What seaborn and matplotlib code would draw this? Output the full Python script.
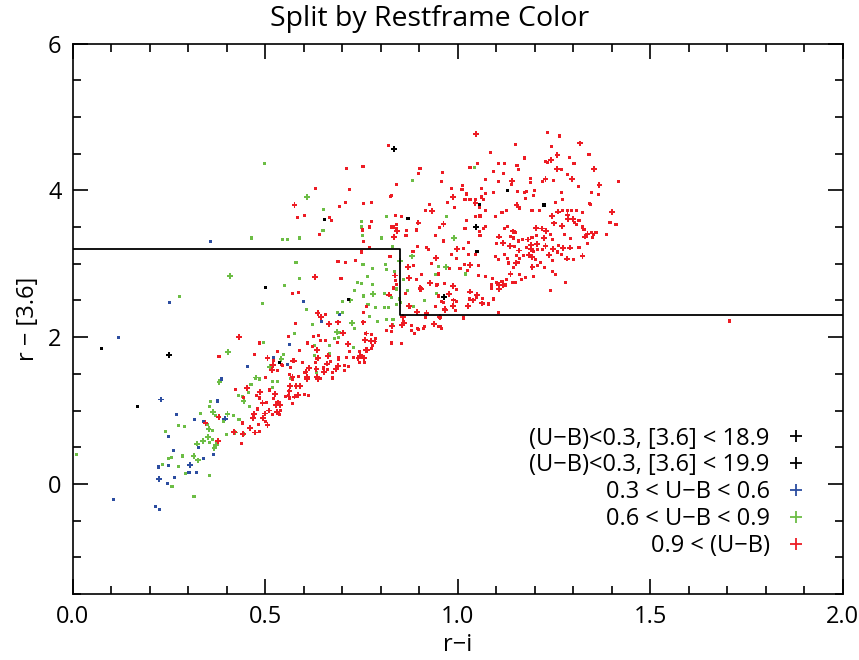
import matplotlib
matplotlib.use("Agg")
import matplotlib.pyplot as plt
import seaborn as sns
import pandas as pd
from matplotlib.lines import Line2D
from matplotlib.ticker import MultipleLocator, FormatStrFormatter

# ---------------- data (x = r-i, y = r-[3.6], big = larger symbol) ----------------
black1_pts = [(0.834, 4.56, 1), (0.251, 1.76, 1), (0.965, 2.55, 1), (1.048, 3.50, 1)]
black2_pts = [(0.655, 3.60, 0), (0.871, 3.62, 0), (0.501, 2.68, 0), (0.717, 2.51, 0),
              (0.074, 1.84, 0), (0.538, 1.66, 0), (0.169, 1.05, 0), (1.129, 4.00, 0),
              (1.057, 3.81, 0), (1.224, 3.80, 0), (1.050, 3.17, 0)]
blue_pts = [(0.357, 3.30, 0), (0.252, 2.47, 0), (0.599, 2.48, 0), (0.118, 2.00, 0), (0.647, 2.21, 0),
            (0.694, 2.31, 0), (0.564, 1.90, 0), (0.557, 1.63, 0), (0.454, 1.60, 0), (0.386, 1.43, 0),
            (0.522, 1.72, 0), (0.229, 1.15, 1), (0.375, 1.13, 0), (0.269, 0.95, 0), (0.316, 0.88, 0),
            (0.339, 0.85, 0), (0.396, 0.89, 1), (0.248, 0.65, 0), (0.326, 0.50, 0), (0.261, 0.45, 0),
            (0.365, 0.40, 0), (0.340, 0.35, 0), (0.250, 0.25, 0), (0.222, 0.23, 0), (0.304, 0.26, 1),
            (0.321, 0.16, 0), (0.302, 0.15, 0), (0.225, 0.07, 1), (0.265, 0.09, 0), (0.246, 0.01, 0),
            (0.107, -0.21, 0), (0.214, -0.31, 0), (0.225, -0.35, 0)]
green_pts = [(0.499, 4.36, 0), (0.609, 3.91, 1), (0.651, 3.74, 0), (0.650, 3.45, 0), (0.465, 3.35, 0),
             (0.544, 3.33, 0), (0.557, 3.33, 0), (0.590, 3.35, 0), (0.882, 4.13, 0), (0.749, 3.58, 0),
             (0.815, 3.64, 0), (0.749, 3.50, 0), (0.752, 3.39, 0), (0.801, 3.35, 0), (0.991, 3.35, 1),
             (0.831, 3.23, 0), (0.881, 3.10, 1), (0.409, 2.83, 1), (0.277, 2.55, 0), (0.580, 3.02, 0),
             (0.588, 2.80, 0), (0.551, 2.70, 0), (0.492, 2.46, 0), (0.607, 2.38, 0), (0.754, 2.99, 0),
             (0.779, 2.94, 0), (0.765, 2.83, 0), (0.740, 2.75, 0), (0.751, 2.73, 0), (0.779, 2.72, 0),
             (0.780, 2.59, 1), (0.731, 2.64, 0), (0.755, 2.56, 0), (0.809, 2.59, 0), (0.812, 2.99, 0),
             (0.814, 2.92, 0), (0.841, 2.65, 0), (0.848, 2.52, 0), (0.840, 2.45, 0), (0.951, 2.96, 0),
             (0.970, 2.96, 1), (0.720, 2.50, 1), (0.701, 2.48, 0), (0.767, 2.45, 0), (0.786, 2.40, 0),
             (0.687, 2.33, 0), (0.700, 2.33, 0), (0.772, 2.28, 0), (0.792, 2.21, 0), (0.725, 2.19, 1),
             (0.731, 2.12, 0), (0.815, 2.09, 0), (0.832, 2.24, 0), (0.687, 2.07, 1), (0.691, 2.00, 0),
             (0.681, 1.98, 0), (0.577, 2.05, 0), (0.496, 1.93, 0), (0.404, 1.80, 1), (0.547, 1.76, 0),
             (0.542, 1.70, 1), (0.668, 1.78, 0), (0.628, 1.75, 0), (0.512, 1.59, 1), (0.475, 1.44, 0),
             (0.729, 1.86, 0), (0.624, 2.17, 0), (0.629, 1.88, 0), (0.668, 1.88, 0), (0.634, 1.52, 0),
             (0.567, 1.44, 0), (0.518, 1.40, 0), (0.533, 1.40, 0), (0.514, 1.57, 0), (0.476, 1.45, 1),
             (0.486, 1.43, 0), (0.463, 1.35, 0), (0.381, 1.39, 1), (0.430, 1.20, 0), (0.442, 1.19, 0),
             (0.444, 1.13, 1), (0.457, 1.25, 0), (0.518, 1.31, 0), (0.358, 1.12, 0), (0.356, 1.06, 0),
             (0.459, 1.05, 0), (0.332, 0.96, 0), (0.364, 0.98, 1), (0.370, 0.93, 0), (0.402, 0.95, 1),
             (0.392, 0.85, 0), (0.417, 0.93, 0), (0.432, 0.88, 0), (0.353, 0.75, 1), (0.364, 0.73, 0),
             (0.351, 0.81, 0), (0.275, 0.80, 0), (0.291, 0.78, 0), (0.240, 0.72, 0), (0.400, 0.67, 0),
             (0.422, 0.70, 1), (0.443, 0.68, 0), (0.351, 0.64, 1), (0.362, 0.61, 0), (0.339, 0.58, 1),
             (0.355, 0.57, 0), (0.377, 0.58, 0), (0.372, 0.53, 1), (0.322, 0.55, 1), (0.368, 0.49, 1),
             (0.257, 0.36, 0), (0.249, 0.35, 0), (0.285, 0.38, 0), (0.314, 0.38, 1), (0.325, 0.32, 1),
             (0.234, 0.26, 0), (0.276, 0.24, 0), (0.294, 0.14, 0), (0.355, 0.11, 0), (0.258, -0.03, 0),
             (0.315, -0.17, 0), (0.009, 0.40, 0), (0.694, 2.06, 0), (0.811, 2.40, 0), (0.791, 2.21, 0),
             (0.820, 2.40, 0), (1.043, 4.31, 0), (0.971, 3.64, 0), (1.021, 2.86, 0), (0.943, 2.85, 0),
             (0.997, 2.65, 0), (0.946, 2.60, 0), (0.914, 2.50, 0), (0.850, 3.04, 1), (0.836, 2.90, 0),
             (0.859, 2.79, 0), (0.842, 2.66, 0), (0.870, 2.64, 0), (0.829, 2.54, 0), (0.852, 2.47, 0),
             (0.886, 2.42, 0), (0.816, 2.24, 0), (0.830, 2.17, 0)]
red_pts = [(1.047, 4.77, 1), (1.234, 4.79, 0), (1.265, 4.74, 0), (0.821, 4.61, 0), (1.150, 4.63, 0),
           (1.318, 4.64, 1), (1.243, 4.60, 0), (0.902, 4.30, 0), (0.898, 4.23, 0), (1.052, 4.37, 0),
           (1.086, 4.51, 0), (1.174, 4.44, 0), (1.259, 4.48, 1), (1.341, 4.49, 0), (1.290, 4.45, 0),
           (1.227, 4.39, 0), (1.242, 4.41, 1), (1.234, 4.38, 0), (1.302, 4.36, 0), (1.353, 4.29, 1),
           (1.105, 4.37, 0), (1.122, 4.37, 0), (1.154, 4.34, 0), (1.157, 4.28, 0), (1.258, 4.29, 1),
           (1.270, 4.29, 0), (1.032, 4.31, 0), (1.092, 4.26, 0), (1.118, 4.23, 0), (0.960, 4.24, 0),
           (0.957, 4.12, 0), (0.840, 4.08, 0), (0.826, 3.92, 0), (1.073, 4.15, 0), (1.107, 4.12, 0),
           (1.141, 4.13, 1), (1.140, 4.08, 0), (1.190, 4.16, 0), (1.189, 4.11, 0), (1.228, 4.15, 1),
           (1.221, 4.12, 0), (1.249, 4.14, 0), (1.284, 4.22, 0), (1.297, 4.15, 1), (1.368, 4.07, 1),
           (1.417, 4.12, 0), (1.314, 4.05, 0), (1.061, 4.03, 0), (1.013, 4.06, 0), (1.011, 4.01, 0),
           (0.983, 4.02, 0), (1.023, 3.95, 0), (0.988, 3.91, 1), (1.073, 3.96, 0), (1.094, 3.97, 0),
           (1.155, 3.99, 0), (1.179, 3.99, 0), (1.173, 3.97, 0), (1.200, 4.00, 0), (1.269, 3.97, 0),
           (1.347, 3.97, 0), (1.365, 3.94, 0), (1.343, 3.82, 0), (1.019, 3.87, 0), (1.032, 3.87, 0),
           (1.046, 3.83, 1), (1.066, 3.87, 0), (1.061, 3.91, 0), (1.047, 3.88, 0), (1.175, 3.89, 0),
           (1.196, 3.93, 0), (1.254, 3.83, 0), (1.271, 3.87, 0), (1.153, 3.80, 1), (0.926, 3.81, 0),
           (0.838, 3.66, 0), (0.853, 3.64, 0), (0.917, 3.72, 0), (0.934, 3.72, 1), (0.973, 3.84, 0),
           (0.991, 3.77, 0), (1.056, 3.77, 0), (1.073, 3.72, 0), (1.127, 3.73, 0), (1.115, 3.70, 0),
           (1.160, 3.76, 0), (1.193, 3.72, 0), (1.212, 3.72, 0), (1.260, 3.71, 1), (1.273, 3.72, 0),
           (1.286, 3.73, 0), (1.295, 3.72, 0), (1.309, 3.73, 0), (1.323, 3.70, 0), (1.344, 3.81, 0),
           (1.400, 3.70, 1), (1.244, 3.65, 1), (1.285, 3.66, 1), (1.287, 3.61, 1), (1.299, 3.61, 1),
           (1.315, 3.59, 0), (1.304, 3.56, 0), (1.250, 3.55, 1), (1.271, 3.51, 1), (1.309, 3.53, 0),
           (1.323, 3.50, 0), (1.337, 3.41, 1), (1.330, 3.47, 0), (1.347, 3.42, 0), (1.358, 3.42, 0),
           (1.349, 3.36, 0), (1.333, 3.38, 0), (1.387, 3.40, 0), (1.395, 3.56, 0), (1.410, 3.53, 0),
           (1.337, 3.27, 0), (1.324, 3.11, 1), (1.278, 3.40, 0), (1.293, 3.34, 0), (1.273, 3.21, 1),
           (1.291, 3.22, 1), (1.262, 3.25, 0), (1.260, 3.16, 0), (1.270, 3.12, 0), (1.284, 3.07, 1),
           (1.300, 3.06, 0), (1.315, 3.22, 0), (1.204, 3.49, 1), (1.218, 3.48, 1), (1.229, 3.45, 1),
           (1.205, 3.39, 0), (1.224, 3.35, 1), (1.240, 3.40, 0), (1.245, 3.33, 0), (1.248, 3.20, 1),
           (1.237, 3.12, 1), (1.221, 3.20, 0), (1.208, 3.19, 0), (1.206, 3.27, 1), (1.228, 3.24, 1),
           (1.193, 3.36, 0), (1.183, 3.33, 1), (1.190, 3.26, 1), (1.191, 3.20, 1), (1.178, 3.22, 0),
           (1.185, 3.12, 1), (1.193, 3.09, 1), (1.197, 3.17, 0), (1.170, 3.11, 0), (1.160, 3.07, 0),
           (1.152, 3.01, 1), (1.152, 3.11, 0), (1.160, 3.18, 1), (1.147, 3.23, 0), (1.151, 3.43, 0),
           (1.143, 3.44, 1), (1.129, 3.51, 0), (1.122, 3.48, 0), (1.137, 3.37, 0), (1.145, 3.35, 0),
           (1.168, 3.33, 0), (1.159, 3.31, 0), (1.108, 3.37, 1), (1.100, 3.28, 0), (1.118, 3.28, 1),
           (1.135, 3.24, 1), (1.097, 3.10, 0), (1.107, 3.06, 0), (1.121, 3.13, 0), (1.130, 3.07, 0),
           (1.133, 3.01, 0), (1.144, 2.95, 0), (1.158, 3.02, 0), (1.194, 2.96, 1), (1.208, 2.97, 0),
           (1.216, 3.02, 0), (1.225, 2.95, 0), (1.202, 3.06, 0), (1.247, 3.05, 0), (1.246, 2.90, 0),
           (1.254, 2.85, 0), (1.279, 2.75, 0), (1.241, 2.63, 0), (1.196, 2.83, 0), (1.176, 2.81, 0),
           (1.165, 2.78, 0), (1.160, 2.85, 0), (1.137, 2.86, 1), (1.143, 2.75, 0), (1.151, 2.75, 0),
           (1.127, 2.78, 0), (1.115, 2.76, 0), (1.117, 2.71, 1), (1.108, 2.71, 1), (1.125, 2.71, 0),
           (1.107, 2.66, 1), (1.101, 2.74, 0), (1.090, 2.80, 0), (1.073, 2.83, 0), (1.087, 2.71, 0),
           (1.088, 2.67, 0), (1.092, 2.52, 0), (1.079, 2.45, 0), (1.066, 2.46, 0), (1.051, 2.58, 1),
           (1.032, 2.62, 1), (1.055, 2.84, 0), (1.054, 2.98, 0), (1.032, 2.98, 1), (1.026, 2.91, 0),
           (1.046, 3.12, 0), (1.029, 3.13, 0), (1.016, 3.21, 0), (0.999, 3.20, 1), (0.985, 3.12, 0),
           (0.997, 3.07, 0), (1.017, 2.99, 0), (1.006, 2.93, 0), (1.027, 3.29, 0), (1.058, 3.38, 0),
           (1.057, 3.44, 0), (1.068, 3.48, 0), (1.073, 3.51, 0), (1.047, 3.64, 0), (1.058, 3.65, 0),
           (1.098, 3.64, 0), (1.023, 3.59, 0), (1.019, 3.48, 0), (0.963, 3.54, 1), (0.952, 3.49, 0),
           (0.943, 3.39, 0), (0.963, 3.31, 0), (0.895, 3.23, 0), (0.919, 3.22, 0), (0.924, 3.19, 0),
           (0.943, 3.08, 1), (0.931, 3.00, 0), (0.978, 2.94, 0), (0.950, 2.86, 0), (0.907, 2.85, 0),
           (0.871, 2.96, 1), (0.885, 2.97, 0), (0.838, 2.84, 1), (0.873, 2.80, 1), (0.892, 2.79, 0),
           (0.928, 2.74, 1), (0.948, 2.72, 0), (0.965, 2.73, 0), (0.987, 2.70, 1), (0.978, 2.59, 1),
           (0.996, 2.65, 0), (0.903, 2.67, 1), (0.903, 2.63, 0), (0.821, 2.58, 1), (0.840, 2.72, 0),
           (0.864, 2.59, 0), (0.949, 2.56, 0), (0.964, 2.47, 0), (0.989, 2.50, 1), (0.996, 2.48, 0),
           (1.031, 2.52, 0), (1.039, 2.50, 1), (1.049, 2.54, 0), (1.027, 2.42, 1), (1.064, 2.53, 0),
           (0.873, 2.43, 1), (0.893, 2.34, 1), (0.919, 2.33, 1), (0.943, 2.42, 0), (0.966, 2.38, 1),
           (0.987, 2.42, 1), (0.995, 2.36, 0), (0.954, 2.27, 0), (0.917, 2.27, 0), (0.857, 2.27, 1),
           (0.860, 2.19, 1), (0.937, 2.18, 1), (0.954, 2.14, 0), (0.914, 2.14, 0), (0.897, 2.11, 0),
           (0.880, 2.16, 0), (0.830, 2.15, 1), (0.829, 2.08, 0), (0.814, 2.09, 0), (0.888, 2.05, 0),
           (1.015, 2.26, 0), (1.105, 2.34, 0), (0.840, 3.48, 0), (0.843, 3.44, 1), (0.833, 3.50, 0),
           (0.834, 3.36, 1), (0.893, 3.46, 0), (0.866, 3.38, 0), (0.898, 3.56, 1), (0.884, 3.17, 0),
           (0.825, 3.10, 0), (0.910, 2.12, 0), (0.949, 2.15, 0), (0.957, 2.12, 0), (0.938, 2.18, 1),
           (0.967, 2.37, 1), (1.028, 2.42, 1), (1.064, 2.46, 1), (1.080, 2.46, 0),
           (1.396, 3.56, 0), (1.411, 3.53, 0), (1.328, 3.47, 0), (1.331, 3.37, 1), (1.352, 3.40, 0),
           (1.360, 3.42, 0), (1.705, 2.22, 0),
           (0.754, 4.32, 0), (0.710, 4.30, 0), (0.719, 4.01, 0), (0.631, 4.03, 0), (0.576, 3.80, 1),
           (0.584, 3.63, 0), (0.603, 3.66, 0), (0.667, 3.63, 0), (0.673, 3.59, 0), (0.641, 3.40, 0),
           (0.709, 3.83, 0), (0.694, 3.78, 0), (0.755, 3.82, 0), (0.776, 3.83, 0), (0.827, 3.93, 0),
           (0.776, 3.57, 0), (0.753, 3.46, 0), (0.771, 3.50, 0), (0.829, 3.50, 0), (0.865, 3.38, 0),
           (0.867, 3.45, 0), (0.841, 3.53, 0), (0.756, 3.30, 0), (0.770, 3.22, 0), (0.751, 3.16, 0),
           (0.734, 3.05, 0), (0.709, 3.02, 0), (0.689, 3.03, 0), (0.630, 2.82, 1), (0.697, 2.80, 0),
           (0.570, 2.59, 0), (0.586, 2.61, 0), (0.823, 3.10, 0), (0.838, 2.77, 0), (0.833, 2.67, 0),
           (0.874, 2.81, 1), (0.904, 2.66, 1), (0.927, 2.74, 1), (0.946, 2.71, 0),
           (0.636, 2.33, 1), (0.644, 2.27, 1), (0.656, 2.31, 0), (0.578, 2.18, 0), (0.690, 2.20, 1),
           (0.755, 2.20, 1), (0.763, 2.05, 1), (0.776, 2.04, 0), (0.760, 1.96, 1), (0.784, 1.94, 1),
           (0.786, 1.98, 0), (0.778, 1.88, 0), (0.762, 1.82, 1), (0.745, 1.80, 0), (0.742, 1.71, 1),
           (0.749, 1.75, 0), (0.757, 1.66, 0), (0.829, 1.92, 0), (0.855, 2.16, 1), (0.859, 2.21, 0),
           (0.879, 2.09, 0), (0.895, 2.12, 0), (0.756, 2.33, 0), (0.764, 2.42, 0), (0.854, 1.91, 0),
           (0.875, 2.41, 0), (0.919, 2.32, 1), (0.953, 2.27, 1), (0.959, 2.48, 0), (0.894, 2.34, 1),
           (0.432, 2.00, 1), (0.486, 1.92, 0), (0.380, 1.74, 0), (0.472, 1.76, 0), (0.532, 1.81, 0),
           (0.506, 1.72, 1), (0.560, 2.01, 0), (0.574, 1.68, 1), (0.588, 1.82, 0), (0.609, 1.92, 0),
           (0.625, 2.01, 0), (0.638, 2.02, 0), (0.623, 1.87, 0), (0.644, 1.96, 0), (0.657, 1.95, 0),
           (0.666, 2.18, 1), (0.687, 1.93, 0), (0.703, 2.06, 1), (0.715, 1.91, 1), (0.720, 1.80, 0),
           (0.729, 1.72, 0), (0.710, 1.72, 0), (0.691, 1.72, 0), (0.663, 1.74, 1), (0.670, 1.67, 0),
           (0.689, 1.61, 1), (0.706, 1.61, 0), (0.683, 1.57, 1), (0.637, 1.72, 1), (0.630, 1.65, 0),
           (0.613, 1.58, 1), (0.603, 1.52, 0), (0.633, 1.57, 1), (0.651, 1.58, 0), (0.660, 1.64, 1),
           (0.566, 1.59, 0), (0.543, 1.63, 0), (0.533, 1.55, 0), (0.608, 1.46, 1), (0.587, 1.46, 0),
           (0.571, 1.46, 1), (0.500, 1.45, 0), (0.674, 1.45, 0), (0.637, 1.43, 1),
           (0.716, 1.60, 0), (0.705, 1.55, 0), (0.675, 1.44, 0), (0.662, 1.56, 0), (0.653, 1.52, 1),
           (0.644, 1.44, 0), (0.634, 1.46, 1), (0.609, 1.43, 1), (0.597, 1.65, 0), (0.605, 1.53, 1),
           (0.573, 1.68, 1), (0.544, 1.61, 0), (0.563, 1.49, 0), (0.590, 1.33, 1), (0.581, 1.33, 1),
           (0.586, 1.21, 1), (0.602, 1.22, 0), (0.612, 1.21, 0), (0.576, 1.19, 1), (0.564, 1.33, 1),
           (0.563, 1.26, 1), (0.561, 1.20, 0), (0.564, 1.17, 0), (0.570, 1.10, 0), (0.552, 1.19, 0),
           (0.525, 1.23, 1), (0.512, 1.28, 0), (0.521, 1.16, 0), (0.533, 1.11, 1), (0.528, 1.08, 1),
           (0.538, 1.07, 1), (0.503, 1.11, 0), (0.493, 1.10, 1), (0.485, 1.17, 0), (0.486, 1.25, 1),
           (0.477, 1.21, 0), (0.452, 1.31, 1), (0.443, 1.18, 0), (0.422, 1.29, 0), (0.509, 1.00, 1),
           (0.499, 0.96, 1), (0.494, 0.90, 1), (0.501, 0.85, 0), (0.518, 0.94, 0), (0.530, 0.98, 1),
           (0.540, 1.00, 0), (0.536, 0.95, 0), (0.470, 0.95, 1), (0.469, 0.90, 1), (0.479, 1.02, 0),
           (0.506, 0.80, 1), (0.482, 0.81, 0), (0.461, 0.76, 1), (0.474, 0.70, 1), (0.486, 0.71, 0),
           (0.442, 0.83, 0), (0.442, 0.68, 1), (0.439, 0.55, 0), (0.419, 0.71, 1), (0.379, 0.91, 1),
           (0.345, 0.83, 1), (0.377, 0.58, 1), (0.570, 1.42, 0), (0.521, 1.68, 0), (0.521, 1.62, 1),
           (0.518, 1.55, 1), (0.635, 1.82, 1), (0.633, 1.71, 0), (0.674, 1.52, 0), (0.690, 1.69, 0),
           (0.757, 1.72, 1), (0.744, 1.66, 0), (0.759, 1.66, 0), (0.764, 1.82, 1), (0.774, 1.95, 1),
           (0.761, 2.05, 0), (0.776, 1.84, 0), (0.746, 1.75, 1)]

labels = ["(U\u2212B)<0.3, [3.6] < 18.9", "(U\u2212B)<0.3, [3.6] < 19.9",
          "0.3 < U\u2212B < 0.6", "0.6 < U\u2212B < 0.9", "0.9 < (U\u2212B)"]
colors = ["#000000", "#000000", "#2c4da0", "#6cbd45", "#ed1c24"]
groups = [black1_pts, black2_pts, blue_pts, green_pts, red_pts]

# divider line (vertices of the selection boundary)
box_x = [0.0, 0.85, 0.85, 2.0]
box_y = [3.2, 3.2, 2.3, 2.3]

rows = []
for lab, pts in zip(labels, groups):
    for x, y, b in pts:
        rows.append({"ri": x, "r36": y, "cls": lab, "big": "big" if b else "small"})
df = pd.DataFrame(rows)

# ---------------- plot ----------------
sns.set_theme(style="ticks")
plt.rcParams["font.family"] = ["Open Sans", "DejaVu Sans"]
plt.rcParams["text.color"] = "black"
plt.rcParams["axes.labelcolor"] = "black"

fig = plt.figure(figsize=(8.59, 6.60), dpi=100)
ax = fig.add_axes([0.0846, 0.1, 0.8965, 0.834])

draw_order = [labels[2], labels[3], labels[4], labels[1], labels[0]]
for lab in draw_order:
    sub = df[df["cls"] == lab]
    sns.scatterplot(data=sub, x="ri", y="r36", size="big", sizes={"small": 5, "big": 17},
                    style="big", markers={"small": "s", "big": "P"},
                    color=colors[labels.index(lab)], linewidth=0, legend=False, ax=ax)

ax.plot(box_x, box_y, color="black", lw=1.3)

ax.set_xlim(0, 2.0)
ax.set_ylim(-1.5, 6)
ax.xaxis.set_major_locator(MultipleLocator(0.5))
ax.xaxis.set_minor_locator(MultipleLocator(0.1))
ax.xaxis.set_major_formatter(FormatStrFormatter("%.1f"))
ax.yaxis.set_major_locator(MultipleLocator(2))
ax.yaxis.set_minor_locator(MultipleLocator(0.5))
ax.tick_params(which="both", direction="in", top=True, right=True, colors="black",
               labelcolor="black", labelsize=17, width=1.2)
ax.tick_params(which="major", length=11, pad=8)
ax.tick_params(which="minor", length=5.5)
for s in ax.spines.values():
    s.set_linewidth(1.2)
    s.set_color("black")

ax.set_xlabel("r\u2212i", fontsize=17, labelpad=3, color="black")
ax.set_ylabel("r \u2212 [3.6]", fontsize=17, labelpad=6, color="black")
fig.suptitle("Split by Restframe Color", x=0.5, y=0.992, va="top", fontsize=20.5, color="black")

handles = [Line2D([], [], linestyle="none", marker="+", markersize=8, markeredgewidth=1.3,
                  color=c) for c in colors]
leg = ax.legend(handles, labels, loc="lower right", bbox_to_anchor=(0.985, 0.027), frameon=False,
                markerfirst=False, fontsize=17, handlelength=1.2, handletextpad=0.5,
                labelspacing=0.12)
for t in leg.get_texts():
    t.set_color("black")

fig.savefig("out.png", dpi=100)
